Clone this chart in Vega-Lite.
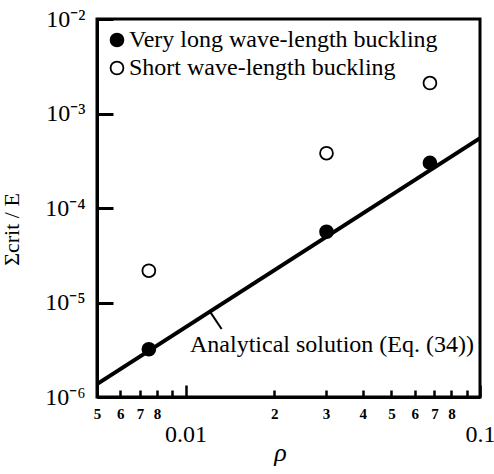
{
  "$schema": "https://vega.github.io/schema/vega-lite/v6.json",
  "width": 383,
  "height": 378,
  "autosize": {"type": "none"},
  "padding": {"left": 97, "top": 19, "right": 14, "bottom": 77},
  "background": "white",
  "config": {"view": {"stroke": "black", "strokeWidth": 3}, "font": "Liberation Serif"},
  "datasets": {
    "points": [
      {"rho": 0.0075, "sigma": 3.2e-6, "type": "Very long wave-length buckling"},
      {"rho": 0.0301, "sigma": 5.6e-5, "type": "Very long wave-length buckling"},
      {"rho": 0.0676, "sigma": 3.0e-4, "type": "Very long wave-length buckling"},
      {"rho": 0.0075, "sigma": 2.17e-5, "type": "Short wave-length buckling"},
      {"rho": 0.0301, "sigma": 3.8e-4, "type": "Short wave-length buckling"},
      {"rho": 0.0676, "sigma": 2.1e-3, "type": "Short wave-length buckling"}
    ],
    "line": [{"rho": 0.005, "sigma": 1.37e-6}, {"rho": 0.1, "sigma": 5.48e-4}],
    "leader": [{"rho": 0.0121, "sigma": 8.0e-6, "rho2": 0.01325, "sigma2": 5.25e-6}],
    "label": [{"rho": 0.01035, "sigma": 3.55e-6, "text": "Analytical solution (Eq. (34))"}]
  },
  "layer": [
    {
      "data": {"name": "line"},
      "mark": {"type": "line", "color": "black", "strokeWidth": 4, "clip": true},
      "encoding": {
        "x": {
          "field": "rho", "type": "quantitative",
          "scale": {"type": "log", "domain": [0.005, 0.1], "nice": false},
          "axis": {
            "values": [0.005, 0.006, 0.007, 0.008, 0.009, 0.01, 0.02, 0.03, 0.04, 0.05, 0.06, 0.07, 0.08, 0.09, 0.1],
            "labelExpr": "datum.value==0.01?'0.01':datum.value==0.1?'0.1':(datum.value==0.009||datum.value==0.09)?'':slice(format(datum.value,'.0e'),0,1)",
            "title": "ρ",
            "titleFont": "Liberation Serif",
            "titleFontStyle": "italic",
            "titleFontWeight": "normal",
            "titleFontSize": 26,
            "titleColor": "black",
            "titleBaseline": "middle",
            "titleY": 55,
            "titleX": 183,
            "domainColor": "black",
            "domainWidth": 3,
            "tickColor": "black",
            "tickWidth": 2.5,
            "tickSize": {"condition": {"test": "datum.value==0.01||datum.value==0.1", "value": -12}, "value": -7},
            "labelFont": "Liberation Serif",
            "labelFontSize": {"condition": {"test": "datum.value==0.01||datum.value==0.1", "value": 24}, "value": 15},
            "labelFontWeight": {"condition": {"test": "datum.value==0.01||datum.value==0.1", "value": "normal"}, "value": "bold"},
            "labelPadding": {"condition": {"test": "datum.value==0.01||datum.value==0.1", "value": 37}, "value": 16},
            "labelColor": "black",
            "labelOverlap": false,
            "labelBound": false,
            "labelFlush": false,
            "grid": false,
            "zindex": 1
          }
        },
        "y": {
          "field": "sigma", "type": "quantitative",
          "scale": {"type": "log", "domain": [1e-6, 1e-2], "nice": false},
          "axis": {
            "values": [1e-6, 1e-5, 1e-4, 1e-3, 1e-2],
            "labelExpr": "'10' + (datum.value >= 0.005 ? '⁻²' : datum.value >= 0.0005 ? '⁻³' : datum.value >= 0.00005 ? '⁻⁴' : datum.value >= 0.000005 ? '⁻⁵' : '⁻⁶')",
            "labelFont": "Liberation Serif",
            "labelFontSize": 24,
            "labelColor": "black",
            "labelPadding": 28,
            "labelOverlap": false,
            "labelBound": false,
            "labelFlush": false,
            "ticks": true,
            "tickSize": -16,
            "tickWidth": 3,
            "tickColor": "black",
            "tickOpacity": 1,
            "domainColor": "black",
            "domainWidth": 3,
            "grid": false,
            "zindex": 1,
            "title": "Σcrit / E",
            "titleFont": "Liberation Serif",
            "titleFontSize": 22,
            "titleFontWeight": "normal",
            "titleColor": "black",
            "titleX": -74,
            "titleY": 210
          }
        }
      }
    },
    {
      "data": {"name": "leader"},
      "mark": {"type": "rule", "color": "black", "strokeWidth": 2},
      "encoding": {
        "x": {"field": "rho", "type": "quantitative"},
        "y": {"field": "sigma", "type": "quantitative"},
        "x2": {"field": "rho2"},
        "y2": {"field": "sigma2"}
      }
    },
    {
      "data": {"name": "label"},
      "mark": {"type": "text", "align": "left", "baseline": "middle", "fontSize": 24, "font": "Liberation Serif", "color": "black"},
      "encoding": {
        "x": {"field": "rho", "type": "quantitative"},
        "y": {"field": "sigma", "type": "quantitative"},
        "text": {"field": "text"}
      }
    },
    {
      "data": {"name": "points"},
      "mark": {"type": "circle", "stroke": "black", "strokeWidth": 1.8, "opacity": 1, "size": 165},
      "encoding": {
        "x": {"field": "rho", "type": "quantitative"},
        "y": {"field": "sigma", "type": "quantitative"},
        "fill": {
          "field": "type", "type": "nominal",
          "scale": {"domain": ["Very long wave-length buckling", "Short wave-length buckling"], "range": ["black", "white"]},
          "legend": {
            "title": null,
            "orient": "none",
            "legendX": 8,
            "legendY": 9,
            "labelFont": "Liberation Serif",
            "labelFontSize": 24,
            "labelColor": "black",
            "labelLimit": 400,
            "labelOffset": 0,
            "symbolType": "circle",
            "symbolSize": 165,
            "symbolStrokeColor": "black",
            "symbolStrokeWidth": 1.8,
            "rowPadding": 4
          }
        }
      }
    }
  ]
}
